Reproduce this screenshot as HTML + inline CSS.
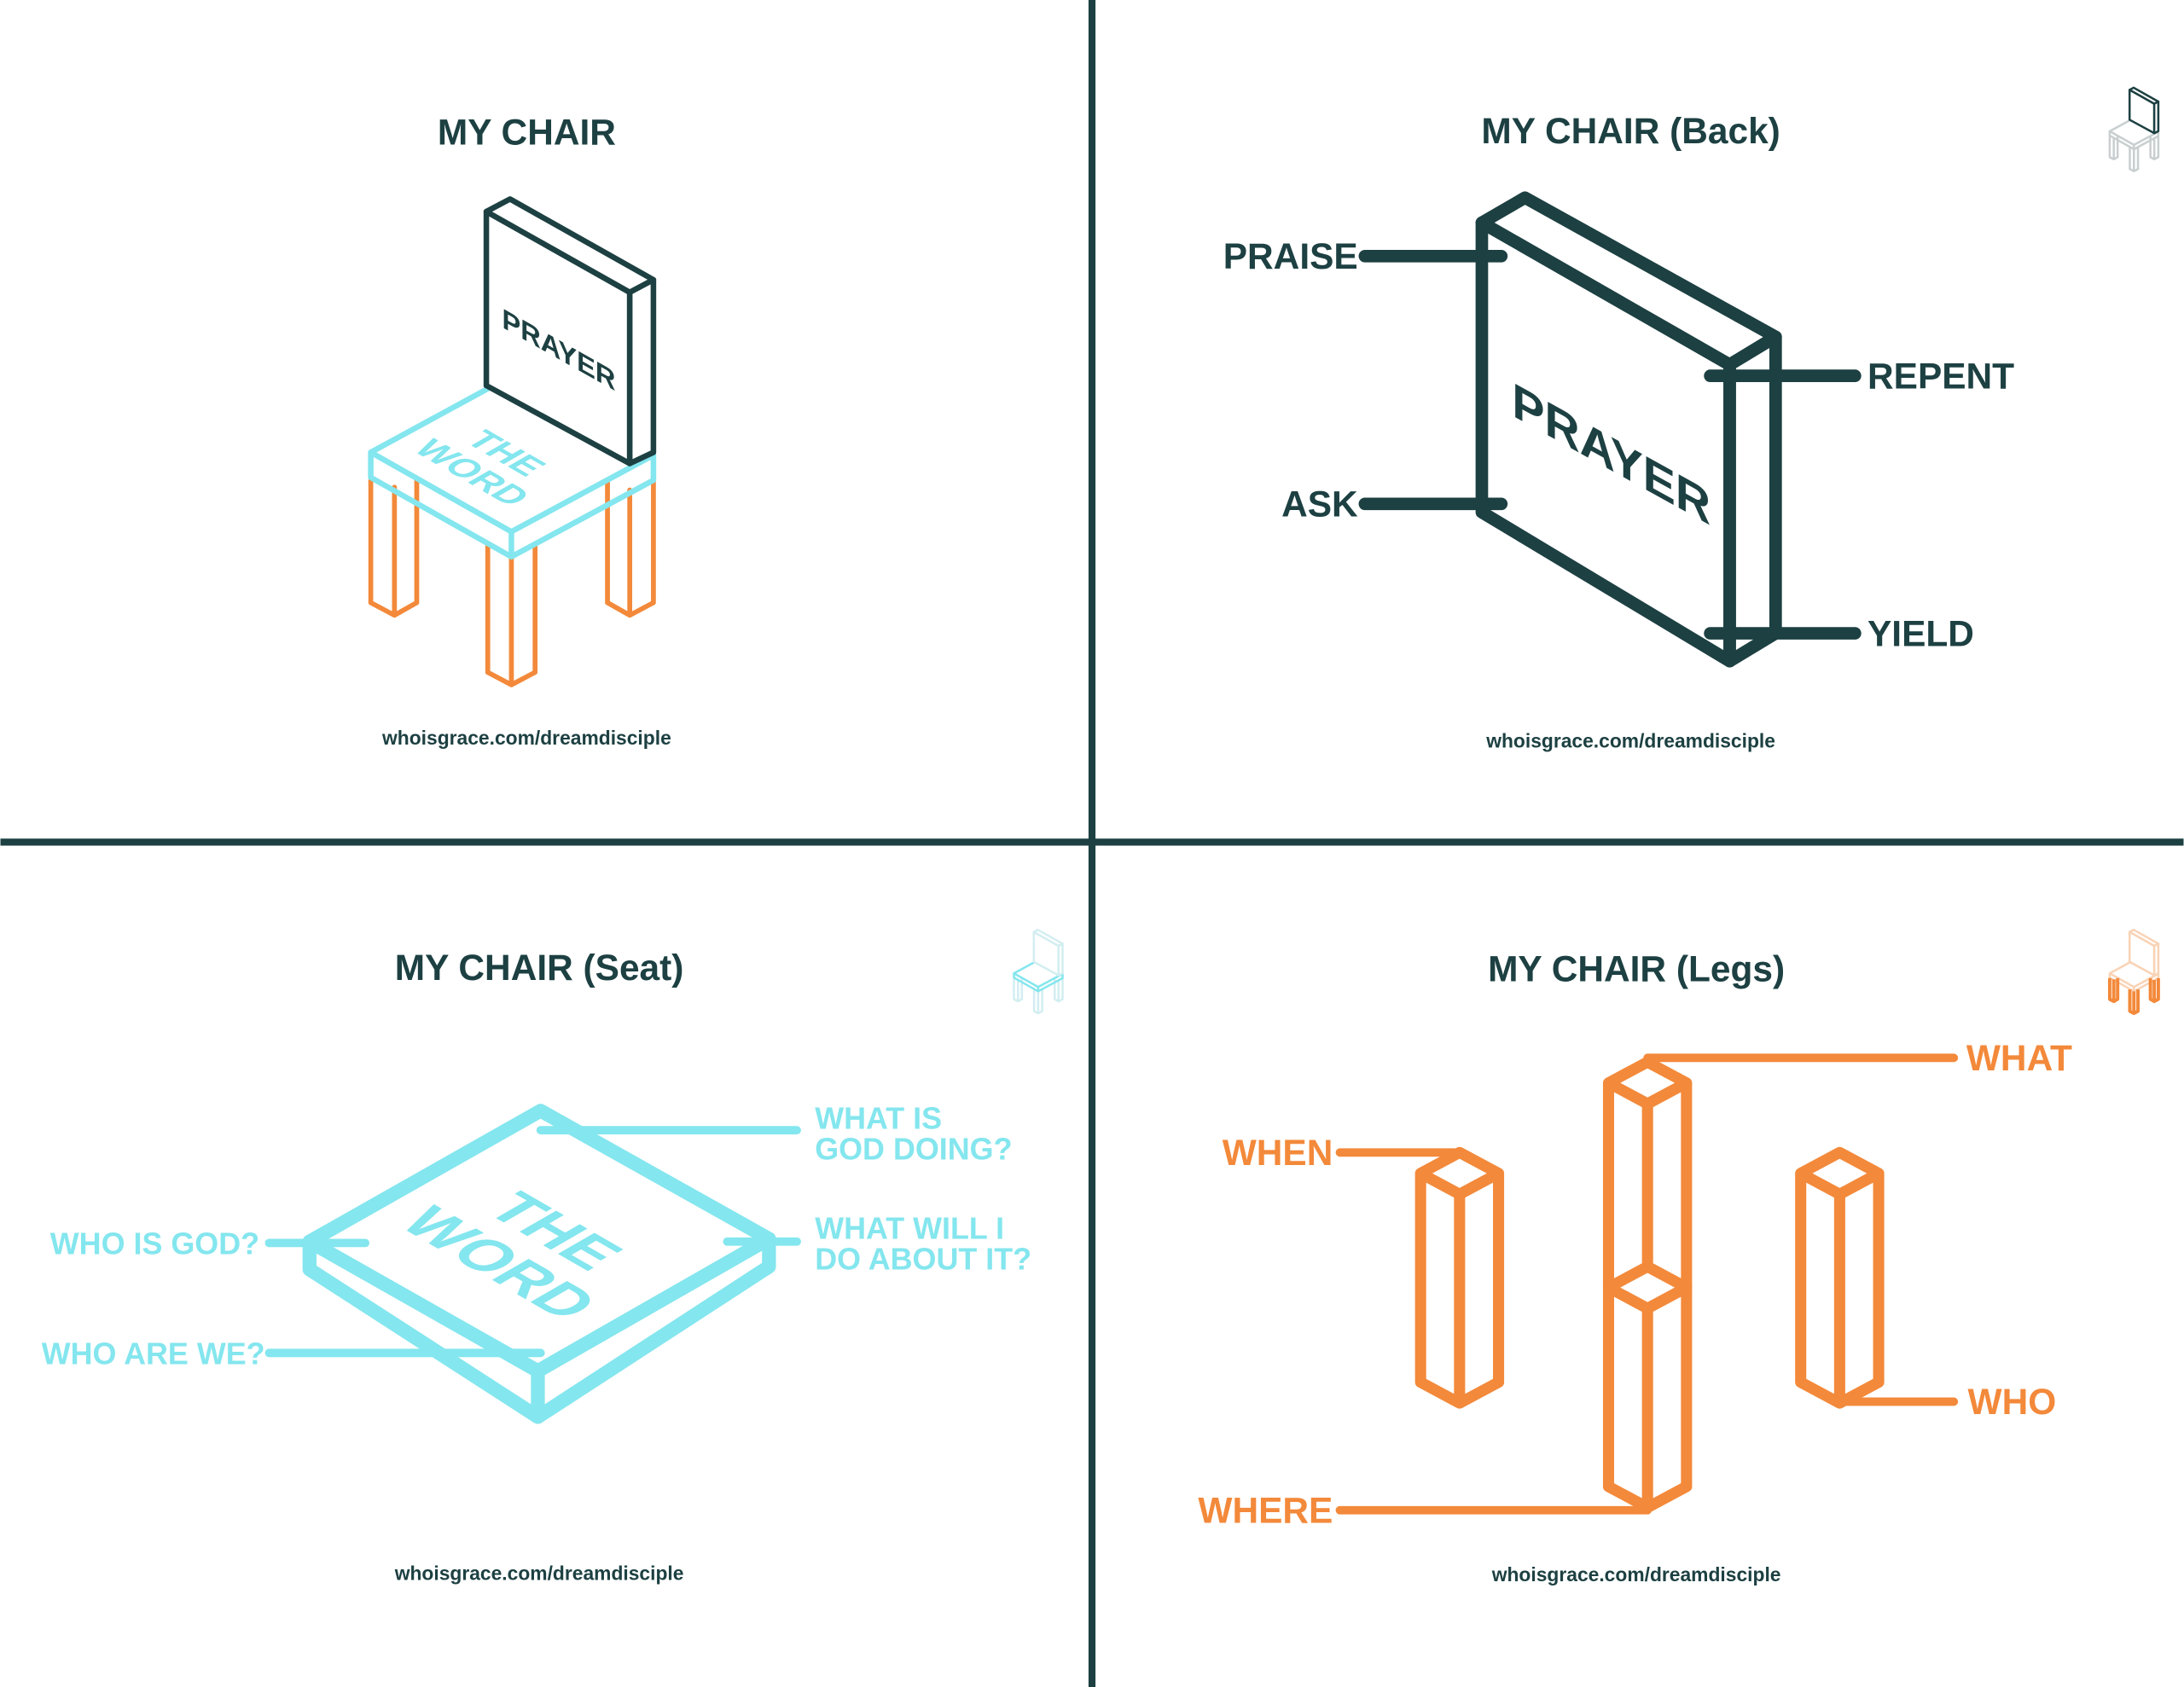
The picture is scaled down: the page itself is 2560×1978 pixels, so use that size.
<!DOCTYPE html>
<html><head><meta charset="utf-8"><style>
html,body{margin:0;padding:0;background:#fff;}
svg{display:block;}
text{font-family:"Liberation Sans",sans-serif;font-weight:bold;}
</style></head><body>
<svg width="2560" height="1978" viewBox="0 0 1568 1212" xmlns="http://www.w3.org/2000/svg">
<rect width="1568" height="1212" fill="#fff"/>
<line x1="784" y1="0" x2="784" y2="1212" stroke="#1d4042" stroke-width="5"/>
<line x1="0" y1="605" x2="1568" y2="605" stroke="#1d4042" stroke-width="5"/>

<!-- TL chair -->
<g stroke-linejoin="round" stroke-linecap="round" fill="none">
 <g stroke="#f3893a" stroke-width="3.5">
  <path d="M266,345 V433 L283,442 L299,433 V345 M283,350 V442"/>
  <path d="M350,392 V483 L367,492 L384,483 V392 M367,400 V492"/>
  <path d="M436,345 V433 L452,442 L469,433 V345 M452,352 V442"/>
 </g>
 <g stroke="#84e6ee" stroke-width="4">
  <polygon points="266,325 367,270 469,327 367,382" fill="#fff"/>
  <path d="M266,325 V343 L367,400 L469,345 V327 M367,382 V400"/>
 </g>
 <g stroke="#1d4042" stroke-width="4">
  <polygon points="349,152 452,210 452,333 349,277" fill="#fff"/>
  <polygon points="349,152 366,143 469,201 452,210" fill="#fff"/>
  <polygon points="452,210 469,201 469,325 452,333" fill="#fff"/>
 </g>
</g>
<text transform="translate(401,250) skewY(29.4)" text-anchor="middle" y="8" font-size="20" fill="#1d4042">PRAYER</text>
<g transform="matrix(0.866,0.5,-0.866,0.5,352,332)" fill="#84e6ee" font-size="26" text-anchor="middle">
 <text y="-4">THE</text><text y="24">WORD</text>
</g>
<text x="378" y="104" text-anchor="middle" font-size="26" fill="#1d4042">MY CHAIR</text>
<text x="378" y="535" text-anchor="middle" font-size="14" fill="#1d4042">whoisgrace.com/dreamdisciple</text>

<!-- TR -->
<text x="1171" y="103" text-anchor="middle" font-size="26" fill="#1d4042">MY CHAIR (Back)</text>
<g stroke="#1d4042" stroke-width="9" stroke-linejoin="round" stroke-linecap="round" fill="none">
 <polygon points="1064,160 1242,262 1242,475 1064,368"/>
 <polygon points="1064,160 1095,142 1275,242 1242,262"/>
 <polygon points="1242,262 1275,242 1275,455 1242,475"/>
 <line x1="980" y1="184" x2="1078" y2="184"/>
 <line x1="980" y1="362" x2="1078" y2="362"/>
 <line x1="1228" y1="270" x2="1332" y2="270"/>
 <line x1="1228" y1="455" x2="1332" y2="455"/>
</g>
<text transform="translate(1157,325) skewY(29)" text-anchor="middle" y="13" font-size="35" fill="#1d4042">PRAYER</text>
<g fill="#1d4042" font-size="26">
 <text x="975" y="193" text-anchor="end">PRAISE</text>
 <text x="975" y="371" text-anchor="end">ASK</text>
 <text x="1341" y="279">REPENT</text>
 <text x="1341" y="464">YIELD</text>
</g>
<text x="1171" y="537" text-anchor="middle" font-size="14" fill="#1d4042">whoisgrace.com/dreamdisciple</text>

<!-- BL -->
<text x="387" y="704" text-anchor="middle" font-size="26" fill="#1d4042">MY CHAIR (Seat)</text>
<g stroke="#84e6ee" stroke-width="10" stroke-linejoin="round" stroke-linecap="round" fill="none">
 <polygon points="222,892 388,798 552,890 386,985"/>
 <path d="M222,892 V912 L386,1018 L552,910 V890 M386,985 V1018"/>
 <line x1="388" y1="812" x2="572" y2="812" stroke-width="6"/>
 <line x1="193" y1="893" x2="262" y2="893" stroke-width="6"/>
 <line x1="522" y1="892" x2="572" y2="892" stroke-width="6"/>
 <line x1="193" y1="972" x2="388" y2="972" stroke-width="6"/>
</g>
<g transform="matrix(0.866,0.5,-0.866,0.5,380,895)" fill="#84e6ee" font-size="44" text-anchor="middle">
 <text y="-6">THE</text><text y="40">WORD</text>
</g>
<g fill="#84e6ee" font-size="22">
 <text x="585" y="811">WHAT IS</text><text x="585" y="833">GOD DOING?</text>
 <text x="585" y="890">WHAT WILL I</text><text x="585" y="912">DO ABOUT IT?</text>
 <text x="186" y="901" text-anchor="end">WHO IS GOD?</text>
 <text x="190" y="980" text-anchor="end">WHO ARE WE?</text>
</g>
<text x="387" y="1135" text-anchor="middle" font-size="14" fill="#1d4042">whoisgrace.com/dreamdisciple</text>

<!-- BR -->
<text x="1175" y="705" text-anchor="middle" font-size="26" fill="#1d4042">MY CHAIR (Legs)</text>
<g stroke="#f3893a" stroke-width="8" stroke-linejoin="round" stroke-linecap="round" fill="none">
 <path d="M1048,828 L1076,843 L1048,858 L1020,843 Z M1020,843 V993 L1048,1008 L1076,993 V843 M1048,858 V1008"/>
 <path d="M1321,828 L1349,843 L1321,858 L1293,843 Z M1293,843 V993 L1321,1008 L1349,993 V843 M1321,858 V1008"/>
 <path d="M1183,763 L1211,778 L1183,793 L1155,778 Z M1155,778 V1068 L1183,1083 L1211,1068 V778 M1183,793 V910"/>
 <path d="M1183,910 L1211,925 L1183,940 L1155,925 Z M1183,940 V1083"/>
 <line x1="1183" y1="760" x2="1403" y2="760" stroke-width="6"/>
 <line x1="962" y1="828" x2="1048" y2="828" stroke-width="6"/>
 <line x1="1321" y1="1007" x2="1403" y2="1007" stroke-width="6"/>
 <line x1="962" y1="1085" x2="1183" y2="1085" stroke-width="6"/>
</g>
<g fill="#f3893a" font-size="26">
 <text x="1412" y="769">WHAT</text>
 <text x="957" y="837" text-anchor="end">WHEN</text>
 <text x="1413" y="1016">WHO</text>
 <text x="957" y="1094" text-anchor="end">WHERE</text>
</g>
<text x="1175" y="1136" text-anchor="middle" font-size="14" fill="#1d4042">whoisgrace.com/dreamdisciple</text>

<!-- icons -->
<g transform="translate(1469.2,38.4) scale(0.172)" stroke-linejoin="round" fill="none" stroke-width="9">
 <g stroke="#c9cfd0">
  <path d="M266,345 V433 L283,442 L299,433 V345 M283,350 V442 M350,392 V483 L367,492 L384,483 V392 M367,400 V492 M436,345 V433 L452,442 L469,433 V345 M452,352 V442"/>
  <polygon points="266,325 367,270 469,327 367,382" fill="#fff"/>
  <path d="M266,325 V343 L367,400 L469,345 V327 M367,382 V400"/>
 </g>
 <g stroke="#1d4042">
  <polygon points="349,152 452,210 452,333 349,277" fill="#fff"/>
  <polygon points="349,152 366,143 469,201 452,210" fill="#fff"/>
  <polygon points="452,210 469,201 469,325 452,333" fill="#fff"/>
 </g>
</g>
<g transform="translate(682.2,643.4) scale(0.172)" stroke-linejoin="round" fill="none" stroke-width="9">
 <g stroke="#d3eef1">
  <path d="M266,345 V433 L283,442 L299,433 V345 M283,350 V442 M350,392 V483 L367,492 L384,483 V392 M367,400 V492 M436,345 V433 L452,442 L469,433 V345 M452,352 V442"/>
 </g>
 <g stroke="#84e6ee">
  <polygon points="266,325 367,270 469,327 367,382" fill="#fff"/>
  <path d="M266,325 V343 L367,400 L469,345 V327 M367,382 V400"/>
 </g>
 <g stroke="#d3eef1">
  <polygon points="349,152 452,210 452,333 349,277" fill="#fff"/>
  <polygon points="349,152 366,143 469,201 452,210" fill="#fff"/>
  <polygon points="452,210 469,201 469,325 452,333" fill="#fff"/>
 </g>
</g>
<g transform="translate(1469.2,643.4) scale(0.172)" stroke-linejoin="round" fill="none" stroke-width="9">
 <g stroke="#f9d3b5">
  <polygon points="266,325 367,270 469,327 367,382" fill="#fff"/>
  <path d="M266,325 V343 L367,400 L469,345 V327 M367,382 V400"/>
  <polygon points="349,152 452,210 452,333 349,277" fill="#fff"/>
  <polygon points="349,152 366,143 469,201 452,210" fill="#fff"/>
  <polygon points="452,210 469,201 469,325 452,333" fill="#fff"/>
 </g>
 <g stroke="#f3893a" stroke-width="14">
  <path d="M266,345 V433 L283,442 L299,433 V345 M283,350 V442 M350,392 V483 L367,492 L384,483 V392 M367,400 V492 M436,345 V433 L452,442 L469,433 V345 M452,352 V442"/>
 </g>
</g>
</svg>
</body></html>
